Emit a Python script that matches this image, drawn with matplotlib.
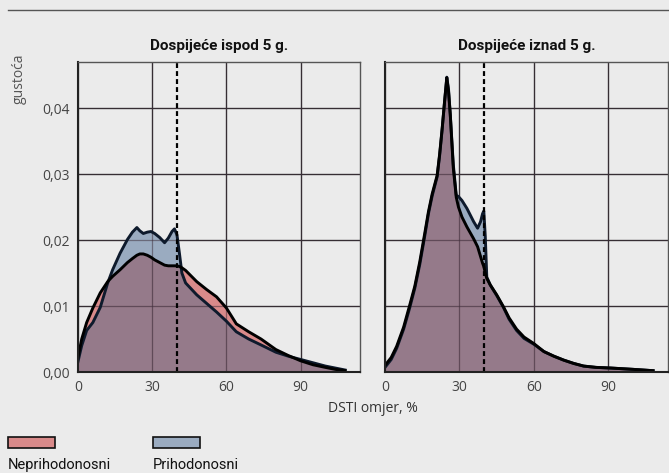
import matplotlib
matplotlib.use("Agg")
import matplotlib.pyplot as plt
import numpy as np
from matplotlib.lines import Line2D
from matplotlib.patches import Rectangle

# ---------------- data ----------------
panel_titles = ["Dospijeće ispod 5 g.", "Dospijeće iznad 5 g."]
series_names = ["Neprihodonosni", "Prihodonosni"]
x_ticks = [0, 30, 60, 90]
y_ticks = [0.00, 0.01, 0.02, 0.03, 0.04]
y_tick_labels = ["0,00", "0,01", "0,02", "0,03", "0,04"]
threshold = 40

# left panel (maturity below 5 years)
x_left = [0, 1.5, 3.5, 6, 9, 12, 14, 17, 20, 22, 23.8, 25, 26.4, 28, 29.5, 31, 33, 35,
          36.5, 38, 39, 40, 41, 42, 43.5, 48, 52, 56, 60, 64, 69, 74, 80, 85, 90, 95,
          100, 104, 108]
red_left = [0.0022, 0.0050, 0.0075, 0.0097, 0.0120, 0.0137, 0.0145, 0.0155, 0.0166, 0.0172,
            0.0177, 0.0179, 0.0179, 0.0177, 0.0174, 0.0170, 0.0166, 0.0162,
            0.0161, 0.0161, 0.0161, 0.0161, 0.0160, 0.0158, 0.0154, 0.0137, 0.0125, 0.0114,
            0.0097, 0.0073, 0.0061, 0.0050, 0.0034, 0.0025, 0.0017, 0.0011,
            0.0007, 0.0004, 0.0002]
blue_left = [0.0016, 0.0040, 0.0063, 0.0075, 0.0098, 0.0135, 0.0155, 0.0180, 0.0201, 0.0212,
             0.0219, 0.0214, 0.0210, 0.0212, 0.0213, 0.0210, 0.0204, 0.0196,
             0.0203, 0.0213, 0.0217, 0.0208, 0.0180, 0.0150, 0.0135, 0.0117, 0.0104, 0.0091,
             0.0077, 0.0061, 0.0050, 0.0041, 0.0030, 0.0024, 0.0019, 0.0014,
             0.0009, 0.0006, 0.0003]

# right panel (maturity above 5 years)
x_right = [0, 2.5, 4.7, 7.5, 10, 12, 14, 16, 17.5, 19, 21, 22, 23, 24, 24.9, 25.6, 26.3,
           27.5, 28.7, 29.6, 31, 33, 35.7, 37.3, 38.5, 39.3, 39.8, 40.4, 41, 42.4, 45,
           47.7, 50, 53, 56, 60, 64, 68, 72, 76, 80, 85, 91, 100, 108]
red_right = [0.0010, 0.0022, 0.0039, 0.0068, 0.0102, 0.0130, 0.0167, 0.0210, 0.0243, 0.0270,
             0.0298, 0.0330, 0.0368, 0.0410, 0.0446, 0.0425, 0.0390,
             0.0310, 0.0265, 0.0250, 0.0235, 0.0220, 0.0202, 0.0190, 0.0175, 0.0165,
             0.0160, 0.0150, 0.0142, 0.0132, 0.0117,
             0.0099, 0.0082, 0.0065, 0.0053, 0.0043, 0.0031, 0.0024, 0.0018, 0.0013,
             0.0009, 0.0007, 0.0006, 0.0004, 0.0002]
blue_right = [0.0007, 0.0019, 0.0036, 0.0065, 0.0098, 0.0127, 0.0163, 0.0206, 0.0240, 0.0267,
              0.0296, 0.0328, 0.0367, 0.0410, 0.0447, 0.0428, 0.0390,
              0.0315, 0.0268, 0.0266, 0.0260, 0.0248, 0.0228, 0.0218, 0.0228, 0.0240,
              0.0244, 0.0205, 0.0144, 0.0132, 0.0116,
              0.0098, 0.0080, 0.0063, 0.0051, 0.0042, 0.0031, 0.0024, 0.0018, 0.0013,
              0.0009, 0.0007, 0.0006, 0.0004, 0.0002]

# ---------------- style ----------------
BG = "#ebebeb"
RED = "#d98a8a"
BLUE = "#9aabc0"
OVER = "#8f7183"
TICK_FONT = ["Open Sans", "DejaVu Sans"]
NARROW = ["Roboto", "DejaVu Sans"]

fig = plt.figure(figsize=(6.69, 4.73), dpi=100, facecolor=BG)
W, H = 669, 473

def fx(px):
    return px / W

def fy(py):
    return 1 - py / H

ax_l = fig.add_axes([fx(78), fy(372), (360 - 78) / W, (372 - 62) / H])
ax_r = fig.add_axes([fx(385), fy(372), (668 - 385) / W, (372 - 62) / H])

panels = [(ax_l, x_left, red_left, blue_left), (ax_r, x_right, red_right, blue_right)]
for i, (ax, xs, rd, bl) in enumerate(panels):
    xs = np.array(xs); rd = np.array(rd); bl = np.array(bl)
    lo = np.minimum(rd, bl)
    ax.set_facecolor(BG)
    ax.set_xlim(0, 114)
    ax.set_ylim(0, 0.047)
    for t in x_ticks:
        ax.axvline(t, color="#333333", lw=0.9, zorder=1)
    for t in y_ticks:
        ax.axhline(t, color="#333333", lw=0.9, zorder=1)
    ax.fill_between(xs, lo, rd, where=rd >= bl, interpolate=True, color=RED, lw=0, zorder=2)
    ax.fill_between(xs, lo, bl, where=bl >= rd, interpolate=True, color=BLUE, lw=0, zorder=2)
    ax.fill_between(xs, 0, lo, color=OVER, alpha=0.93, lw=0, zorder=2)
    for t in x_ticks[1:]:
        ax.axvline(t, color="#3a2a35", lw=0.9, alpha=0.5, zorder=2.5)
    for t in y_ticks[1:]:
        ax.axhline(t, color="#3a2a35", lw=0.9, alpha=0.5, zorder=2.5)
    ax.plot(xs, bl, color="#0e1a2c", lw=2.1, zorder=3, solid_joinstyle="round")
    ax.plot(xs, rd, color="#000000", lw=2.1, zorder=3.2, solid_joinstyle="round")
    ax.axvline(threshold, color="black", lw=1.6, linestyle=(0, (2.2, 1.4)), zorder=4)
    ax.set_xticks(x_ticks)
    ax.set_xticklabels([str(t) for t in x_ticks], fontfamily=TICK_FONT, fontsize=10,
                       color="#444444")
    ax.set_yticks(y_ticks)
    if i == 0:
        ax.set_yticklabels(y_tick_labels, fontfamily=TICK_FONT, fontsize=10, color="#444444")
    else:
        ax.set_yticklabels([])
    ax.tick_params(length=0, pad=6)
    for s in ["top", "right"]:
        ax.spines[s].set_color("#555555")
        ax.spines[s].set_linewidth(1.0)
    for s in ["left", "bottom"]:
        ax.spines[s].set_color("#222222")
        ax.spines[s].set_linewidth(1.5)
    for s in ax.spines.values():
        s.set_zorder(5)
    ax.text(0.5, 1 + 16 / 310, panel_titles[i], transform=ax.transAxes, ha="center",
            va="center", fontfamily=NARROW, fontweight="bold", fontsize=11, color="#111111")

# top rule
fig.add_artist(Line2D([fx(8), 1.0], [fy(10), fy(10)], color="#555555", lw=1.0))

# axis labels
fig.text(fx(19), fy(79), "gustoća", rotation=90, ha="center", va="center",
         fontfamily=TICK_FONT, fontsize=10, color="#555555")
fig.text(fx(373), fy(408), "DSTI omjer, %", ha="center", va="center",
         fontfamily=TICK_FONT, fontsize=10, color="#333333")

# legend
for name, col, x0 in [(series_names[0], RED, 8), (series_names[1], BLUE, 153)]:
    fig.add_artist(Rectangle((fx(x0), fy(448)), 47 / W, 11 / H, transform=fig.transFigure,
                             facecolor=col, edgecolor="#111111", lw=1.2))
    fig.text(fx(x0), fy(465), name, ha="left", va="center", fontfamily=NARROW,
             fontsize=10.5, color="#111111")

fig.savefig("out.png", dpi=100, facecolor=BG)
